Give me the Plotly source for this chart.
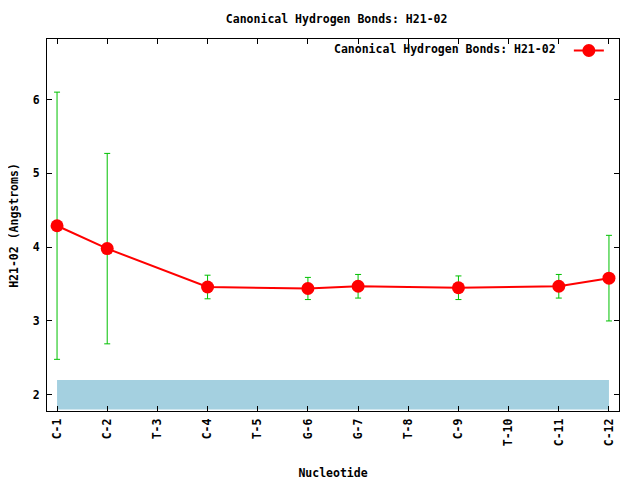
import plotly.graph_objects as go

# Nucleotides along the x axis
nucleotides = ['C-1', 'C-2', 'T-3', 'C-4', 'T-5', 'G-6', 'G-7', 'T-8', 'C-9', 'T-10', 'C-11', 'C-12']

# Mean H21-O2 distance and its standard deviation (None = no bond)
mean_dist = [4.29, 3.98, None, 3.46, None, 3.44, 3.47, None, 3.45, None, 3.47, 3.58]
std_dist = [1.81, 1.29, None, 0.16, None, 0.15, 0.16, None, 0.16, None, 0.16, 0.58]

# Reference band for canonical hydrogen-bond distance
band_low = 1.8
band_high = 2.2

title = 'Canonical Hydrogen Bonds: H21-02'
font_main = dict(family='DejaVu Sans Mono', size=11.5, color='black')

fig = go.Figure()

# light-blue band spanning the first to the last nucleotide
fig.add_trace(go.Scatter(
    x=[nucleotides[0], nucleotides[-1], nucleotides[-1], nucleotides[0], nucleotides[0]],
    y=[band_low, band_low, band_high, band_high, band_low],
    fill='toself', fillcolor='#a4d0e0', line=dict(width=0),
    mode='lines', hoverinfo='skip', showlegend=False,
))

fig.add_trace(go.Scatter(
    x=nucleotides, y=mean_dist,
    mode='lines+markers',
    connectgaps=True,
    name='',
    line=dict(color='#ff0000', width=2),
    marker=dict(color='#ff0000', size=13, symbol='circle'),
    error_y=dict(type='data', array=std_dist, visible=True,
                 color='#00c000', thickness=1, width=3),
))

# legend text sits to the left of the sample, gnuplot style
fig.add_annotation(
    x=0.893, y=0.973, xref='paper', yref='paper',
    xanchor='right', yanchor='middle',
    text='<b>' + title + '</b>', showarrow=False, font=font_main,
)

# y axis title placed by hand, like the gnuplot label
fig.add_annotation(
    x=-0.058, y=0.5, xref='paper', yref='paper',
    xanchor='center', yanchor='middle', textangle=-90,
    text='<b>H21-02 (Angstroms)</b>', showarrow=False, font=font_main,
)

# page body adds an 8px offset, so the figure is made 8px smaller
fig.update_layout(
    width=632, height=472,
    paper_bgcolor='white', plot_bgcolor='white',
    margin=dict(l=39, r=21, t=31, b=69),
    title=dict(text='<b>' + title + '</b>', x=0.52, xanchor='center',
               y=0.977, yanchor='middle', font=font_main),
    font=font_main,
    legend=dict(x=0.991, xanchor='right', y=1.008, yanchor='top',
                bgcolor='rgba(0,0,0,0)', itemwidth=30,
                font=dict(size=11)),
    showlegend=True,
)

fig.update_xaxes(
    type='category', range=[-0.2, 11.2],
    categoryorder='array', categoryarray=nucleotides,
    showline=True, linecolor='black', linewidth=1, mirror='ticks',
    ticks='inside', ticklen=5, tickcolor='black',
    tickangle=-90, showgrid=False, zeroline=False, automargin=False,
    tickfont=dict(family='DejaVu Sans Mono', size=11.5, color='black'),
    ticktext=['<b>' + n + '</b>' for n in nucleotides], tickvals=nucleotides,
    ticklabelstandoff=2,
    title=dict(text='<b>Nucleotide</b>', font=font_main, standoff=25),
)
fig.update_yaxes(
    range=[1.78, 6.82], tickvals=[2, 3, 4, 5, 6],
    ticktext=['<b>2</b>', '<b>3</b>', '<b>4</b>', '<b>5</b>', '<b>6</b>'],
    showline=True, linecolor='black', linewidth=1, mirror='ticks',
    ticks='inside', ticklen=5, tickcolor='black',
    showgrid=False, zeroline=False, automargin=False,
    tickfont=dict(family='DejaVu Sans Mono', size=11.5, color='black'),
    ticklabelstandoff=4,
)

fig.write_html('out.html')
